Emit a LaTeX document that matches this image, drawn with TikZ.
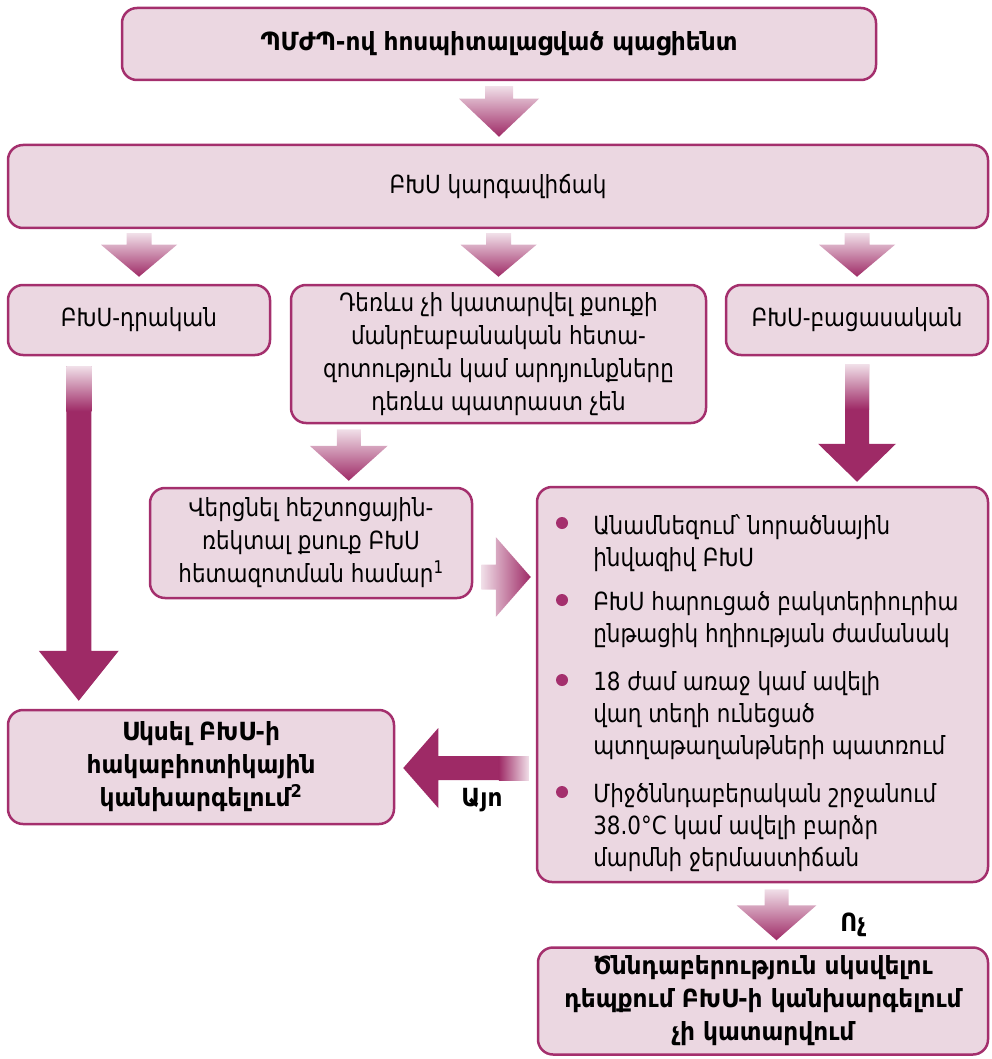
\documentclass[tikz,border=0pt]{standalone}
\usepackage{fontspec}
\setmainfont{DejaVu Sans}[FakeStretch=0.86, BoldFeatures={FakeStretch=0.93}]
\usetikzlibrary{calc}

\definecolor{boxfill}{RGB}{235,215,225}
\definecolor{boxline}{RGB}{164,47,109}
\definecolor{arrowc}{RGB}{158,42,102}

\tikzset{every picture/.style={line width=2.5pt}}
\tikzset{
  box/.style={draw=boxline, fill=boxfill, rounded corners=15pt, align=center, inner sep=0pt, font=\fontsize{25}{33}\selectfont},
  boldbox/.style={box, font=\fontsize{25}{33}\selectfont\bfseries},
  itemtext/.style={align=left, inner sep=0pt, anchor=north west, font=\fontsize{25}{32}\selectfont},
  dot/.style={circle, fill=boxline, inner sep=0pt, minimum size=12pt},
  fadearrow/.style={top color=arrowc!15, middle color=arrowc!70, bottom color=arrowc, draw=none},
  hfadearrow/.style={left color=arrowc!15, middle color=arrowc!70, right color=arrowc, draw=none},
  solidarrow/.style={fill=arrowc, draw=none},
  answer/.style={font=\fontsize{25}{28}\selectfont\bfseries, inner sep=0pt},
}

% block arrows: tail, tip, stem half width, head half width, head length, style
\newcommand{\vblock}[6]{%
  \path[#6] let \p1=#1, \p2=#2 in
    ({\x1-#3},\y1) -- ({\x1+#3},\y1) -- ({\x1+#3},{\y2-#5}) -- ({\x1+#4},{\y2-#5})
    -- (\x1,\y2) -- ({\x1-#4},{\y2-#5}) -- ({\x1-#3},{\y2-#5}) -- cycle;}
\newcommand{\hblock}[6]{%
  \path[#6] let \p1=#1, \p2=#2 in
    (\x1,{\y1+#3}) -- ({\x2-(#5)},{\y1+#3}) -- ({\x2-(#5)},{\y1+#4}) -- (\x2,\y1)
    -- ({\x2-(#5)},{\y1-#4}) -- ({\x2-(#5)},{\y1-#3}) -- (\x1,{\y1-#3}) -- cycle;}

\begin{document}
\begin{tikzpicture}[x=1pt,y=1pt,yscale=-1]
\useasboundingbox (0,0) rectangle (992,1059);

\node[boldbox, minimum width=754pt, minimum height=72pt] (patient) at (499,44) {ՊՄԺՊ-ով հոսպիտալացված պացիենտ};
\node[box, minimum width=980pt, minimum height=83pt] (status) at (498,186.5) {ԲԽՍ կարգավիճակ};
\node[box, minimum width=262pt, minimum height=70pt] (pos) at (139,320) {ԲԽՍ-դրական};
\node[box, minimum width=415pt, minimum height=138pt] (pend) at (498.5,354) {Դեռևս չի կատարվել քսուքի\\մանրէաբանական հետա-\\զոտություն կամ արդյունքները\\դեռևս պատրաստ չեն};
\node[box, minimum width=262pt, minimum height=70pt] (neg) at (857,320) {ԲԽՍ-բացասական};
\node[box, minimum width=322pt, minimum height=110pt] (swab) at (311,543) {Վերցնել հեշտոցային-\\ռեկտալ քսուք ԲԽՍ\\հետազոտման համար\textsuperscript{1}};
\node[box, minimum width=451pt, minimum height=395pt] (crit) at (762.5,684.5) {};
\node[boldbox, minimum width=386pt, minimum height=114pt] (start) at (201,767) {Սկսել ԲԽՍ-ի\\հակաբիոտիկային\\կանխարգելում\textsuperscript{2}};
\node[boldbox, minimum width=450pt, minimum height=107pt] (nofever) at (763,1001) {Ծննդաբերություն սկսվելու\\դեպքում ԲԽՍ-ի կանխարգելում\\չի կատարվում};

\node[dot] (dot1) at (562,523) {};
\node[dot] (dot2) at (562,600) {};
\node[dot] (dot3) at (562,680) {};
\node[dot] (dot4) at (562,792) {};
\node[itemtext] (item1) at (592,513) {Անամնեզում՝ նորածնային\\ինվազիվ ԲԽՍ};
\node[itemtext] (item2) at (592,590) {ԲԽՍ հարուցած բակտերիուրիա\\ընթացիկ հղիության ժամանակ};
\node[itemtext] (item3) at (592,670) {18 ժամ առաջ կամ ավելի\\վաղ տեղի ունեցած\\պտղաթաղանթների պատռում};
\node[itemtext] (item4) at (592,782) {Միջծննդաբերական շրջանում\\38.0°C կամ ավելի բարձր\\մարմնի ջերմաստիճան};

\coordinate (leftlane) at ($(pos.south west)+(72,10)$);
\coordinate (midlane) at ($(pend.south west)+(59,5)$);
\coordinate (bottomlane) at ($(crit.south)+(14,6)$);

\vblock{($(patient.south)+(0,5)$)}{($(status.north)+(0,-7)$)}{14pt}{40pt}{38pt}{fadearrow}
\vblock{($(pos.north |- status.south)+(0,4)$)}{($(pos.north)+(0,-7)$)}{12.5pt}{38pt}{32pt}{fadearrow}
\vblock{($(pend.north |- status.south)+(0,4)$)}{($(pend.north)+(0,-7)$)}{12.5pt}{38pt}{32pt}{fadearrow}
\vblock{($(neg.north |- status.south)+(0,4)$)}{($(neg.north)+(0,-7)$)}{12.5pt}{38pt}{32pt}{fadearrow}
\vblock{(leftlane)}{($(leftlane |- start.north)+(0,-8)$)}{12.5pt}{40pt}{50pt}{solidarrow}
\path[top color=arrowc!15, bottom color=arrowc] let \p1=(leftlane) in ({\x1-12.5pt},\y1) rectangle ({\x1+12.5pt},{\y1+45pt});
\vblock{($(neg.south)+(0,8)$)}{($(neg.south |- crit.north)+(0,-4)$)}{12pt}{39pt}{38pt}{solidarrow}
\path[top color=arrowc!15, bottom color=arrowc] let \p1=($(neg.south)+(0,8)$) in ({\x1-12pt},\y1) rectangle ({\x1+12pt},{\y1+45pt});
\vblock{(midlane)}{($(midlane |- swab.north)+(0,-6)$)}{12pt}{39pt}{35pt}{fadearrow}
\hblock{($(swab.east)+(8,34)$)}{($(crit.west |- swab.east)+(-5,34)$)}{12.5pt}{40pt}{35pt}{hfadearrow}
\hblock{($(crit.west |- start.east)+(-7,1)$)}{($(start.east)+(8,1)$)}{12pt}{40pt}{-35pt}{solidarrow}
\path[left color=arrowc, right color=arrowc!15] let \p1=($(crit.west |- start.east)+(-7,1)$) in ({\x1-30pt},{\y1-12pt}) rectangle (\x1,{\y1+12pt});
\vblock{(bottomlane)}{($(bottomlane |- nofever.north)+(0,-6)$)}{12pt}{40pt}{35pt}{fadearrow}

\node[answer] (yes) at (482,800) {Այո};
\node[answer] (no) at (853,925) {Ոչ};
\end{tikzpicture}
\end{document}
